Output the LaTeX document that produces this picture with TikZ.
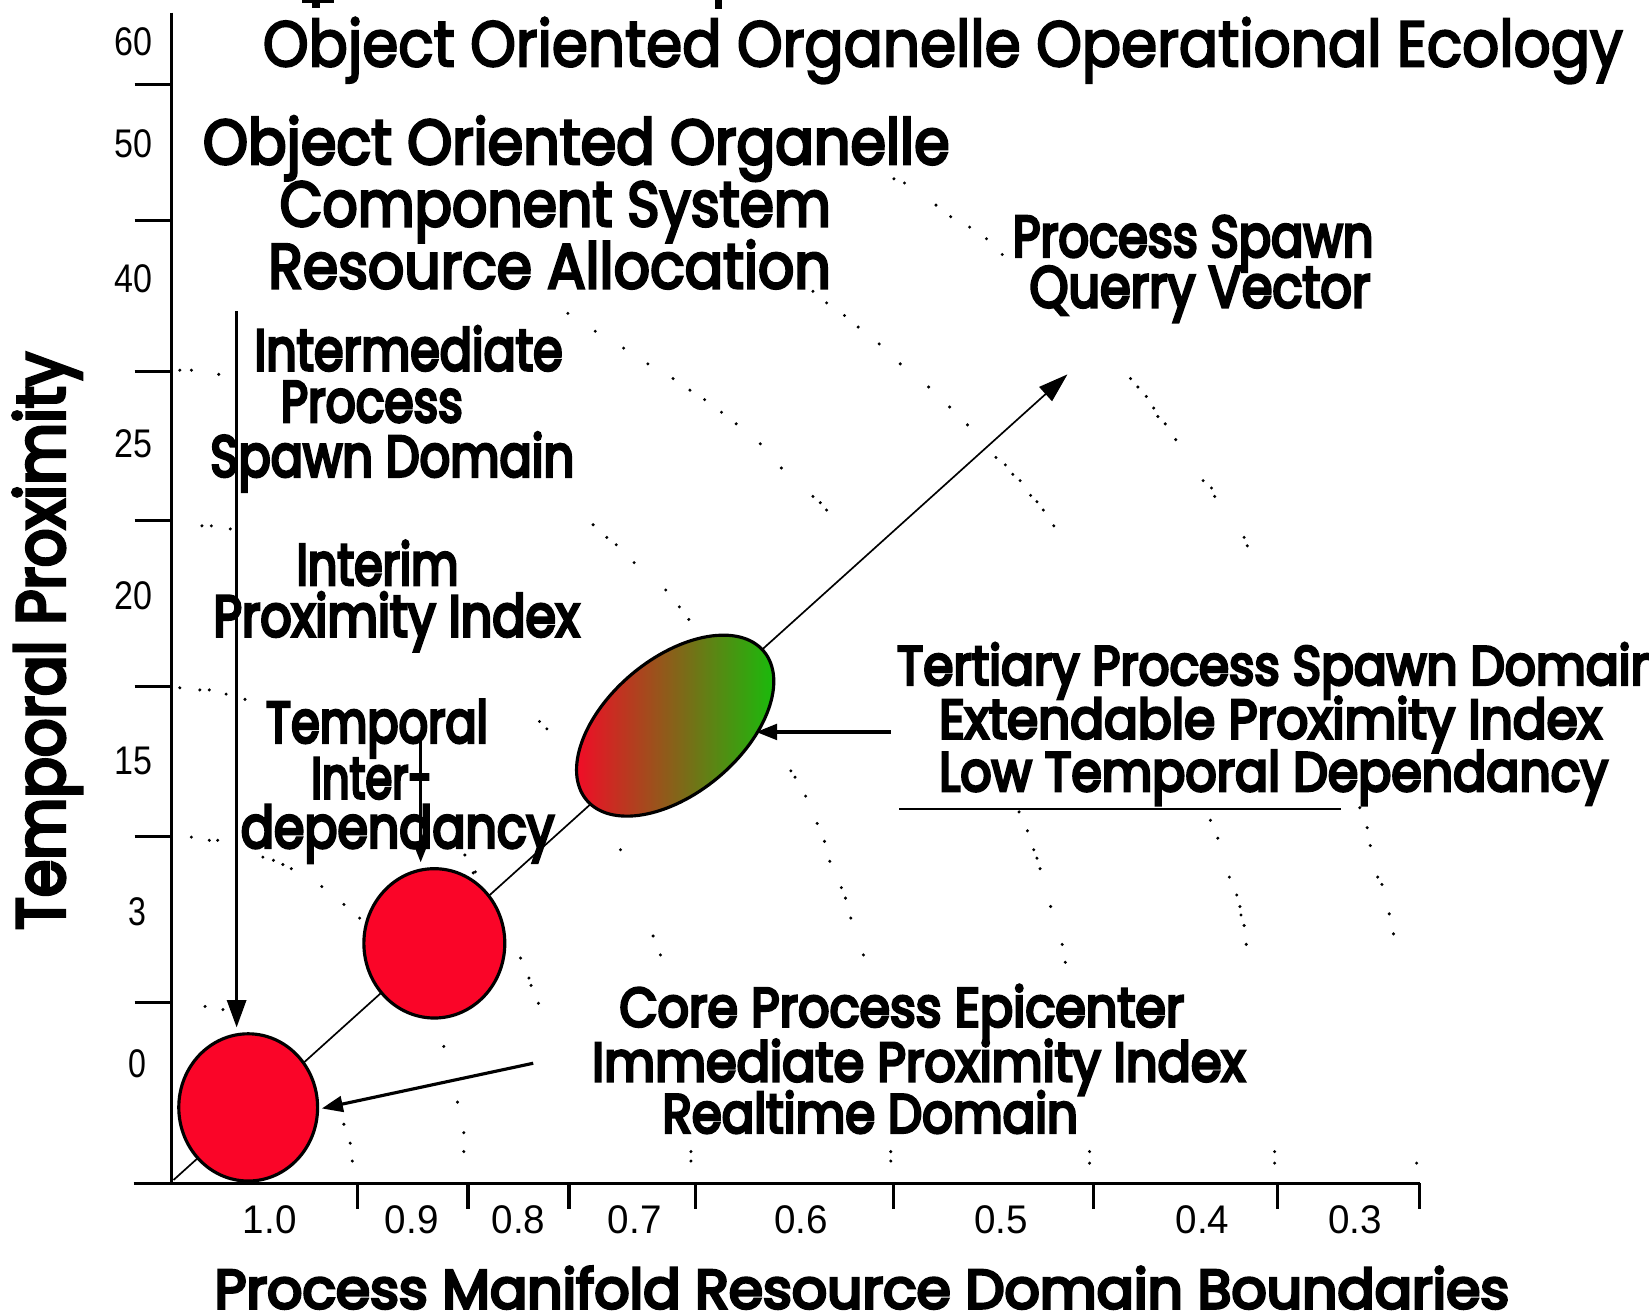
\documentclass[tikz,border=0pt]{standalone}
\usepackage{fontspec}
\usepackage{graphicx}
\setmainfont{Poppins}
\newfontfamily\popA{Poppins}[FakeBold=3.5]
\newfontfamily\popB{Poppins}[FakeBold=4.5]
\newfontfamily\popC{Poppins}[FakeBold=5.5]
\newfontfamily\numfont{Liberation Sans}
\usetikzlibrary{arrows.meta}
\definecolor{cred}{RGB}{250,5,40}
\definecolor{cgreen}{RGB}{15,195,10}
\newcommand{\fitw}[2]{\resizebox{#1pt}{\height}{#2}}
\begin{document}
\begin{tikzpicture}[x=1pt,y=-1pt,
  txt/.style={anchor=base west,inner sep=0pt,outer sep=0pt},
  fa/.style={font=\popA\fontsize{61pt}{64pt}\selectfont},
  fb/.style={font=\popB\fontsize{60pt}{64pt}\selectfont},
  fc/.style={font=\popC\fontsize{55pt}{60pt}\selectfont},
  fd/.style={font=\popC\fontsize{52pt}{56pt}\selectfont},
  fy/.style={font=\popC\fontsize{64pt}{68pt}\selectfont},
  num/.style={inner sep=0pt,outer sep=0pt,anchor=center,font=\numfont\fontsize{38pt}{40pt}\selectfont},
  axisline/.style={line width=3pt},
  arr/.style={line width=3pt,-{Triangle[length=26pt,width=18pt]}},
  sarr/.style={line width=3pt,-{Triangle[length=20pt,width=15pt]}},
  diag/.style={line width=1.6pt,-{Triangle[length=28pt,width=18pt]}},
  blob/.style={fill=cred,draw=black,line width=3pt}]
\useasboundingbox (0,0) rectangle (1568,1251);
\fill[white] (0,0) rectangle (1568,1251);

% cropped fragments at the top edge
\fill (287,0) rectangle (318,3);
\fill (297,0) rectangle (304,8);
\fill (680,0) rectangle (687,9);

% dotted traces
\foreach \p in {(850,170),(860,174),(890,195),(904,206),(922,216),(938,227),(953,242),
  (773,277),(786,288),(803,300),(816,311),(836,327),(856,346),(883,368),(903,387),(920,404),(947,435),(956,442),(963,451),(970,457),(980,471),(986,477),(992,485),(1002,500),
  (540,298),(566,315),(593,331),(616,346),(640,360),(656,371),(670,380),(686,392),(700,403),(723,422),(743,445),(773,472),(780,478),(786,485),
  (564,499),(577,511),(586,518),(603,535),(633,561),(646,577),(655,589),
  (1075,360),(1082,368),(1090,377),(1097,388),(1101,396),(1108,403),(1118,418),(1144,457),(1152,464),(1155,472),(1183,511),(1186,519),
  (752,733),(756,739),(766,757),(777,783),(784,800),(789,819),(800,844),(804,854),(809,873),(821,908),
  (969,772),(977,790),(983,808),(986,816),(989,826),(999,862),(1010,898),(1013,915),
  (1151,780),(1158,797),(1169,834),(1176,851),(1179,862),(1180,870),(1183,880),(1185,898),
  (1293,768),(1300,787),(1303,804),(1310,834),(1314,841),(1321,869),(1325,888),
  (171,352),(182,352),(208,356),(192,500),(201,500),(219,503),
  (171,654),(190,656),(199,656),(215,660),(233,665),(182,796),(199,799),(207,799),
  (250,815),(260,818),(269,822),(277,826),(306,843),(327,860),(342,873),
  (495,911),(503,930),(505,937),(512,954),(513,686),(520,693),
  (327,1069),(333,1087),(335,1104),(422,995),(435,1048),(441,1077),(441,1095),
  (621,890),(628,908),(590,808),(450,830),(442,813),(452,829),(195,957),(212,960),
  (657,1095),(657,1104),(847,1095),(847,1104),(1036,1095),(1036,1106),(1212,1095),(1212,1106),(1347,1106)}
  \fill \p circle (1.6);

% axes
\coordinate (ytop) at (163,12);
\coordinate (orig) at (163,1125);
\coordinate (xl) at (127,1125);
\coordinate (xr) at (1350,1125);
\draw[axisline] (ytop) -- (orig);
\draw[axisline] (xl) -- (xr);
\foreach \yy in {80,210,353,495,653,795,953}
  \draw[axisline] (128,\yy) -- (163,\yy);
\foreach \xx in {340,445,541,661,850,1040,1215,1350}
  \draw[axisline] (\xx,1125) -- (\xx,1150);

% axis tick labels
\node[num] (y60) at (127,40) {\fitw{36}{60}};
\node[num] (y50) at (127,137) {\fitw{36}{50}};
\node[num] (y40) at (127,265) {\fitw{36}{40}};
\node[num] (y25) at (127,422) {\fitw{36}{25}};
\node[num] (y20) at (127,566) {\fitw{36}{20}};
\node[num] (y15) at (127,724) {\fitw{36}{15}};
\node[num] (y3) at (131,867) {\fitw{17}{3}};
\node[num] (y0) at (131,1011) {\fitw{17}{0}};
\node[num] (x10) at (256.5,1160) {\fitw{51}{1.0}};
\node[num] (x09) at (391.5,1160) {\fitw{51}{0.9}};
\node[num] (x08) at (493,1160) {\fitw{51}{0.8}};
\node[num] (x07) at (603.5,1160) {\fitw{51}{0.7}};
\node[num] (x06) at (761.5,1160) {\fitw{51}{0.6}};
\node[num] (x05) at (952,1160) {\fitw{51}{0.5}};
\node[num] (x04) at (1143.5,1160) {\fitw{51}{0.4}};
\node[num] (x03) at (1288.5,1160) {\fitw{51}{0.3}};

% axis titles
\node[txt,fd] (xlabel) at (204,1244) {\fitw{1231}{Process Manifold Resource Domain Boundaries}};
\node[txt,fy,rotate=90] (ylabel) at (61,884) {\fitw{549}{Temporal Proximity}};

% diagonal vector
\coordinate (dstart) at (165,1122);
\coordinate (dtip) at (1015,356);
\draw[diag] (dstart) -- (dtip);

% domains
\draw[blob] (236,1053) ellipse [x radius=66, y radius=70];
\coordinate (core) at (236,1053);
\draw[blob] (413,897) ellipse [x radius=67, y radius=71];
\coordinate (mid) at (413,897);
\begin{scope}
  \clip[rotate around={40:(642,690)}] (642,690) ellipse [x radius=110, y radius=64];
  \shade[left color=cred, right color=cgreen] (540,595) rectangle (745,785);
\end{scope}
\draw[line width=3pt, rotate around={40:(642,690)}] (642,690) ellipse [x radius=110, y radius=64];

% texts
\node[txt,fa] (title) at (250,63) {\fitw{1293}{Object Oriented Organelle Operational Ecology}};
\node[txt,fb] (ooa) at (193,156) {\fitw{710}{Object Oriented Organelle}};
\node[txt,fb] (oob) at (266,215) {\fitw{524}{Component System}};
\node[txt,fb] (ooc) at (255,274) {\fitw{535}{Resource Allocation}};
\node[txt,fc] (psa) at (963,244) {\fitw{343}{Process Spawn}};
\node[txt,fc] (psb) at (979,292) {\fitw{324}{Querry Vector}};
\node[txt,fc] (ima) at (242,352) {\fitw{293}{Intermediate}};
\node[txt,fc] (imb) at (267,401) {\fitw{173}{Process}};
\node[txt,fc] (imc) at (200,453) {\fitw{346}{Spawn Domain}};
\node[txt,fc] (ina) at (282,556) {\fitw{154}{Interim}};
\node[txt,fc] (inb) at (203,605) {\fitw{348}{Proximity Index}};
\node[txt,fc] (tia) at (253,706) {\fitw{211}{Temporal}};
\node[txt,fc] (tib) at (296,759) {\fitw{115}{Inter-}};
\node[txt,fc] (tic) at (229,806) {\fitw{298}{dependancy}};
\node[txt,fd] (tea) at (853,651) {\fitw{727}{Tertiary Process Spawn Domain}};
\node[txt,fd] (teb) at (893,702) {\fitw{630}{Extendable Proximity Index}};
\node[txt,fd] (tec) at (893,752) {\fitw{636}{Low Temporal Dependancy}};
\node[txt,fd] (coa) at (589,976) {\fitw{537}{Core Process Epicenter}};
\node[txt,fd] (cob) at (563,1028) {\fitw{621}{Immediate Proximity Index}};
\node[txt,fd] (coc) at (630,1077) {\fitw{395}{Realtime Domain}};

% pointer arrows
\coordinate (la) at (225,296);
\coordinate (lb) at (225,977);
\draw[arr] (la) -- (lb);
\coordinate (ta) at (400,705);
\coordinate (tb) at (400,820);
\draw[sarr] (ta) -- (tb);
\coordinate (ca) at (507,1011);
\coordinate (cb) at (306,1054);
\draw[sarr] (ca) -- (cb);
\coordinate (ea) at (847,696);
\coordinate (eb) at (719,696);
\draw[sarr] (ea) -- (eb);
\coordinate (ua) at (855,769);
\coordinate (ub) at (1275,769);
\draw[line width=1.5pt] (ua) -- (ub);
\end{tikzpicture}
\end{document}
